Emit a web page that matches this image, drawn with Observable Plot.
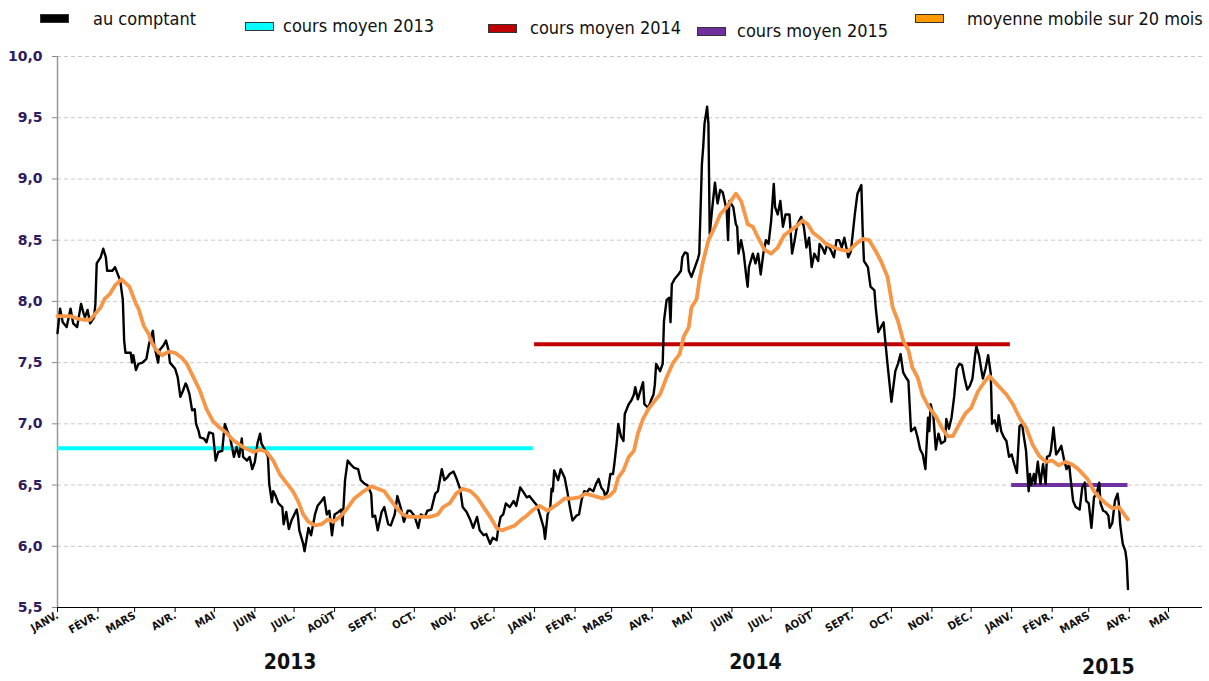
<!DOCTYPE html>
<html><head><meta charset="utf-8">
<script src="https://cdn.jsdelivr.net/npm/d3@7"></script>
<script src="https://cdn.jsdelivr.net/npm/@observablehq/plot@0.6"></script>
<style>
body{margin:0;background:#fff;width:1209px;height:681px;overflow:hidden;position:relative;font-family:"DejaVu Sans Condensed","DejaVu Sans",sans-serif;}
#legend{position:absolute;left:0;top:0;width:1209px;height:40px;}
.sw{position:absolute;width:27px;height:7px;border:1px solid #333;}
.lt{position:absolute;font-size:18px;line-height:20px;color:#111;white-space:nowrap;}
#chart{position:absolute;top:40px;left:0;}
</style></head><body>
<div id="legend"></div>
<div id="chart"></div>
<script>
// ---------- data ----------
const monthLabels = ["JANV.","FÉVR.","MARS","AVR.","MAI","JUIN","JUIL.","AOÛT","SEPT.","OCT.","NOV.","DÉC."];
const yTicks = [5.5,6.0,6.5,7.0,7.5,8.0,8.5,9.0,9.5,10.0];
const xStart = "2013-01-01", xEnd = "2015-05-27";

const legendLabels = ["au comptant","cours moyen 2013","cours moyen 2014","cours moyen 2015","moyenne mobile sur 20 mois"];
const legendColors = ["#000000","#00FFFF","#C00000","#7030A0","#FF9900"];

const meanYears = ["2013","2014","2015"];
const meanValues = [6.80, 7.65, 6.50];
const meanStart = ["2013-01-01","2014-01-01","2015-01-01"];
const meanEnd = ["2013-12-31","2014-12-31","2015-03-31"];
const meanColors = ["#00FFFF","#C00000","#7030A0"];

const yearLabels = ["2013","2014","2015"];
const yearLabelDates = ["2013-06-28","2014-06-19","2015-03-16"];

const spot2013 = [
["2013-01-01",7.74],["2013-01-03",7.94],["2013-01-05",7.83],["2013-01-08",7.79],["2013-01-11",7.94],["2013-01-13",7.82],["2013-01-16",7.79],["2013-01-19",7.98],["2013-01-21",7.90],["2013-01-22",7.87],["2013-01-24",7.93],["2013-01-26",7.82],["2013-01-29",7.87],["2013-01-30",7.98],["2013-01-31",8.31],
["2013-02-03",8.36],["2013-02-05",8.43],["2013-02-07",8.36],["2013-02-08",8.25],["2013-02-12",8.25],["2013-02-14",8.28],["2013-02-18",8.17],["2013-02-20",8.01],["2013-02-21",7.68],["2013-02-22",7.58],["2013-02-26",7.58],["2013-02-27",7.50],["2013-02-28",7.56],
["2013-03-02",7.44],["2013-03-04",7.49],["2013-03-07",7.50],["2013-03-10",7.53],["2013-03-12",7.65],["2013-03-14",7.73],["2013-03-15",7.76],["2013-03-16",7.64],["2013-03-19",7.50],["2013-03-20",7.60],["2013-03-23",7.64],["2013-03-25",7.68],["2013-03-27",7.60],["2013-03-28",7.50],
["2013-04-01",7.45],["2013-04-03",7.38],["2013-04-05",7.22],["2013-04-07",7.27],["2013-04-09",7.33],["2013-04-10",7.31],["2013-04-12",7.24],["2013-04-14",7.11],["2013-04-16",7.12],["2013-04-17",7.00],["2013-04-19",6.94],["2013-04-20",6.89],["2013-04-23",6.88],["2013-04-25",6.85],["2013-04-27",6.93],["2013-04-30",6.92],
["2013-05-02",6.70],["2013-05-04",6.77],["2013-05-07",6.78],["2013-05-09",7.00],["2013-05-11",6.94],["2013-05-13",6.89],["2013-05-16",6.73],["2013-05-18",6.81],["2013-05-20",6.73],["2013-05-22",6.88],["2013-05-23",6.73],["2013-05-26",6.70],["2013-05-28",6.73],["2013-05-30",6.63],
["2013-06-01",6.69],["2013-06-03",6.84],["2013-06-05",6.92],["2013-06-06",6.84],["2013-06-09",6.78],["2013-06-11",6.73],["2013-06-12",6.51],["2013-06-14",6.36],["2013-06-15",6.45],["2013-06-17",6.41],["2013-06-19",6.35],["2013-06-22",6.32],["2013-06-23",6.18],["2013-06-25",6.28],["2013-06-27",6.14],["2013-06-29",6.21],
["2013-07-03",6.30],["2013-07-04",6.24],["2013-07-05",6.13],["2013-07-08",6.02],["2013-07-09",5.96],["2013-07-12",6.15],["2013-07-14",6.09],["2013-07-17",6.26],["2013-07-19",6.33],["2013-07-22",6.37],["2013-07-24",6.40],["2013-07-26",6.26],["2013-07-28",6.29],["2013-07-30",6.09],
["2013-08-01",6.26],["2013-08-04",6.28],["2013-08-06",6.30],["2013-08-07",6.17],["2013-08-09",6.54],["2013-08-11",6.70],["2013-08-14",6.66],["2013-08-16",6.64],["2013-08-19",6.63],["2013-08-21",6.54],["2013-08-24",6.51],["2013-08-26",6.50],["2013-08-29",6.43],["2013-08-30",6.24],
["2013-09-01",6.25],["2013-09-03",6.13],["2013-09-06",6.28],["2013-09-08",6.32],["2013-09-11",6.18],["2013-09-13",6.17],["2013-09-16",6.26],["2013-09-18",6.41],["2013-09-21",6.30],["2013-09-23",6.20],["2013-09-26",6.29],["2013-09-28",6.29],
["2013-10-01",6.25],["2013-10-04",6.15],["2013-10-06",6.26],["2013-10-09",6.24],["2013-10-11",6.29],["2013-10-14",6.30],["2013-10-17",6.43],["2013-10-19",6.45],["2013-10-22",6.63],["2013-10-24",6.54],["2013-10-26",6.56],["2013-10-28",6.59],["2013-10-31",6.61],
["2013-11-02",6.56],["2013-11-05",6.47],["2013-11-07",6.32],["2013-11-10",6.28],["2013-11-13",6.21],["2013-11-15",6.15],["2013-11-18",6.24],["2013-11-20",6.13],["2013-11-23",6.09],["2013-11-25",6.10],["2013-11-28",6.02],["2013-11-30",6.07],
["2013-12-03",6.05],["2013-12-04",6.13],["2013-12-06",6.24],["2013-12-08",6.26],["2013-12-10",6.35],["2013-12-13",6.32],["2013-12-16",6.37],["2013-12-18",6.33],["2013-12-21",6.48],["2013-12-23",6.45],["2013-12-26",6.40],["2013-12-28",6.41],["2013-12-31",6.37]
];
const spot2014 = [
["2014-01-03",6.33],["2014-01-05",6.26],["2014-01-08",6.15],["2014-01-09",6.06],["2014-01-11",6.26],["2014-01-13",6.32],["2014-01-14",6.47],["2014-01-15",6.45],["2014-01-16",6.62],["2014-01-19",6.54],["2014-01-21",6.63],["2014-01-24",6.56],["2014-01-26",6.45],["2014-01-28",6.32],["2014-01-30",6.21],
["2014-02-02",6.25],["2014-02-04",6.26],["2014-02-06",6.38],["2014-02-08",6.45],["2014-02-10",6.44],["2014-02-12",6.47],["2014-02-15",6.45],["2014-02-17",6.51],["2014-02-19",6.55],["2014-02-21",6.48],["2014-02-23",6.45],["2014-02-24",6.41],["2014-02-26",6.45],["2014-02-28",6.59],
["2014-03-02",6.59],["2014-03-03",6.67],["2014-03-05",6.86],["2014-03-06",7.00],["2014-03-08",6.90],["2014-03-10",6.86],["2014-03-11",7.08],["2014-03-14",7.16],["2014-03-16",7.19],["2014-03-18",7.24],["2014-03-19",7.30],["2014-03-21",7.20],["2014-03-23",7.27],["2014-03-25",7.34],["2014-03-26",7.16],["2014-03-29",7.13],["2014-03-31",7.19],
["2014-04-02",7.24],["2014-04-03",7.32],["2014-04-04",7.49],["2014-04-07",7.43],["2014-04-09",7.49],["2014-04-10",7.84],["2014-04-12",8.01],["2014-04-14",8.03],["2014-04-15",7.83],["2014-04-16",8.14],["2014-04-18",8.18],["2014-04-21",8.22],["2014-04-23",8.25],["2014-04-24",8.36],["2014-04-26",8.40],["2014-04-28",8.39],["2014-04-29",8.25],
["2014-05-01",8.20],["2014-05-03",8.26],["2014-05-06",8.35],["2014-05-07",8.39],["2014-05-09",9.12],["2014-05-10",9.26],["2014-05-11",9.45],["2014-05-13",9.59],["2014-05-14",9.45],["2014-05-15",8.55],["2014-05-17",8.77],["2014-05-19",8.97],["2014-05-20",8.88],["2014-05-21",8.80],["2014-05-23",8.91],["2014-05-25",8.89],["2014-05-28",8.74],["2014-05-29",8.50],["2014-05-30",8.82],
["2014-06-02",8.77],["2014-06-04",8.63],["2014-06-05",8.61],["2014-06-06",8.39],["2014-06-08",8.50],["2014-06-10",8.39],["2014-06-12",8.20],["2014-06-13",8.12],["2014-06-14",8.28],["2014-06-17",8.39],["2014-06-19",8.31],["2014-06-21",8.39],["2014-06-23",8.22],["2014-06-25",8.39],["2014-06-27",8.50],["2014-06-29",8.47],
["2014-07-01",8.66],["2014-07-03",8.96],["2014-07-04",8.77],["2014-07-06",8.71],["2014-07-08",8.82],["2014-07-10",8.61],["2014-07-12",8.71],["2014-07-15",8.71],["2014-07-17",8.39],["2014-07-19",8.50],["2014-07-21",8.63],["2014-07-24",8.69],["2014-07-26",8.61],["2014-07-28",8.44],["2014-07-30",8.52],
["2014-08-01",8.28],["2014-08-03",8.39],["2014-08-06",8.33],["2014-08-07",8.47],["2014-08-09",8.44],["2014-08-11",8.39],["2014-08-13",8.47],["2014-08-16",8.41],["2014-08-18",8.36],["2014-08-20",8.50],["2014-08-22",8.50],["2014-08-24",8.44],["2014-08-26",8.52],["2014-08-29",8.36],["2014-08-31",8.41],
["2014-09-03",8.71],["2014-09-05",8.88],["2014-09-08",8.95],["2014-09-09",8.58],["2014-09-10",8.33],["2014-09-13",8.28],["2014-09-15",8.12],["2014-09-18",8.09],["2014-09-19",7.95],["2014-09-21",7.75],["2014-09-23",7.79],["2014-09-25",7.83],["2014-09-26",7.71],["2014-09-28",7.49],
["2014-10-01",7.18],["2014-10-04",7.43],["2014-10-06",7.49],["2014-10-08",7.57],["2014-10-10",7.42],["2014-10-12",7.38],["2014-10-14",7.35],["2014-10-16",6.94],["2014-10-19",6.97],["2014-10-21",6.89],["2014-10-23",6.79],["2014-10-25",6.75],["2014-10-27",6.63],["2014-10-29",7.05],["2014-10-30",6.94],["2014-10-31",7.16],
["2014-11-02",7.08],["2014-11-04",6.79],["2014-11-06",6.92],["2014-11-08",6.84],["2014-11-11",6.86],["2014-11-12",7.04],["2014-11-14",6.96],["2014-11-16",7.05],["2014-11-18",7.22],["2014-11-20",7.45],["2014-11-22",7.49],["2014-11-24",7.48],["2014-11-26",7.37],["2014-11-28",7.28],["2014-11-30",7.31],
["2014-12-02",7.37],["2014-12-04",7.56],["2014-12-05",7.63],["2014-12-07",7.56],["2014-12-09",7.43],["2014-12-10",7.37],["2014-12-12",7.45],["2014-12-14",7.56],["2014-12-16",7.41],["2014-12-17",7.00],["2014-12-19",7.03],["2014-12-21",6.94],["2014-12-22",7.07],["2014-12-24",6.94],["2014-12-26",6.89],["2014-12-28",6.86],["2014-12-30",6.73]
];
const spot2015 = [
["2015-01-01",6.75],["2015-01-03",6.67],["2015-01-05",6.60],["2015-01-07",6.98],["2015-01-09",7.00],["2015-01-10",6.92],["2015-01-12",6.78],["2015-01-14",6.45],["2015-01-15",6.59],["2015-01-16",6.50],["2015-01-18",6.59],["2015-01-19",6.51],["2015-01-21",6.69],["2015-01-23",6.51],["2015-01-25",6.67],["2015-01-27",6.51],["2015-01-28",6.73],["2015-01-30",6.74],["2015-01-31",6.78],
["2015-02-02",6.97],["2015-02-04",6.75],["2015-02-06",6.78],["2015-02-08",6.82],["2015-02-10",6.71],["2015-02-12",6.63],["2015-02-14",6.67],["2015-02-15",6.56],["2015-02-17",6.37],["2015-02-19",6.32],["2015-02-22",6.30],["2015-02-24",6.48],["2015-02-26",6.52],["2015-02-27",6.37],
["2015-03-01",6.35],["2015-03-03",6.15],["2015-03-05",6.40],["2015-03-07",6.43],["2015-03-09",6.52],["2015-03-10",6.35],["2015-03-12",6.29],["2015-03-14",6.28],["2015-03-16",6.25],["2015-03-17",6.15],["2015-03-19",6.19],["2015-03-21",6.37],["2015-03-23",6.43],["2015-03-24",6.35],["2015-03-25",6.18],["2015-03-27",6.02],["2015-03-29",5.96],["2015-03-30",5.88],["2015-03-31",5.65]
];

const ma2013 = [
["2013-01-01",7.88],["2013-01-07",7.88],["2013-01-11",7.88],["2013-01-16",7.86],["2013-01-21",7.85],["2013-01-26",7.85],["2013-01-30",7.90],["2013-02-03",7.95],["2013-02-06",8.02],["2013-02-10",8.06],["2013-02-14",8.13],["2013-02-19",8.18],["2013-02-25",8.12],["2013-03-02",7.98],["2013-03-04",7.94],["2013-03-08",7.80],["2013-03-12",7.73],["2013-03-13",7.69],["2013-03-17",7.61],["2013-03-22",7.56],["2013-03-27",7.59],
["2013-04-01",7.58],["2013-04-06",7.54],["2013-04-10",7.49],["2013-04-15",7.38],["2013-04-20",7.27],["2013-04-25",7.12],["2013-04-30",7.02],["2013-05-05",6.97],["2013-05-10",6.93],["2013-05-15",6.87],["2013-05-23",6.81],["2013-05-31",6.77],["2013-06-05",6.79],["2013-06-10",6.77],["2013-06-15",6.70],["2013-06-20",6.59],["2013-06-25",6.52],["2013-06-30",6.45],
["2013-07-04",6.37],["2013-07-08",6.26],["2013-07-12",6.20],["2013-07-17",6.17],["2013-07-22",6.18],["2013-07-27",6.22],["2013-07-31",6.20],["2013-08-05",6.24],["2013-08-10",6.30],["2013-08-16",6.39],["2013-08-22",6.44],["2013-08-29",6.49],["2013-09-03",6.47],["2013-09-08",6.45],["2013-09-12",6.39],["2013-09-17",6.32],["2013-09-22",6.26],["2013-09-27",6.24],
["2013-10-05",6.24],["2013-10-13",6.24],["2013-10-19",6.26],["2013-10-23",6.32],["2013-10-28",6.35],["2013-11-02",6.43],["2013-11-07",6.47],["2013-11-13",6.45],["2013-11-18",6.40],["2013-11-23",6.32],["2013-11-28",6.24],["2013-12-03",6.15],["2013-12-07",6.13],["2013-12-12",6.15],["2013-12-17",6.17],["2013-12-21",6.21],["2013-12-26",6.25],["2013-12-31",6.30]
];
const ma2014 = [
["2014-01-05",6.33],["2014-01-11",6.29],["2014-01-18",6.34],["2014-01-24",6.39],["2014-01-29",6.39],["2014-02-04",6.40],["2014-02-09",6.43],["2014-02-16",6.41],["2014-02-22",6.39],["2014-02-27",6.41],["2014-03-03",6.45],["2014-03-06",6.56],["2014-03-10",6.62],["2014-03-14",6.73],["2014-03-18",6.78],["2014-03-21",6.92],["2014-03-25",7.04],["2014-03-29",7.12],
["2014-04-03",7.19],["2014-04-07",7.24],["2014-04-12",7.38],["2014-04-17",7.50],["2014-04-22",7.57],["2014-04-25",7.71],["2014-04-29",7.79],["2014-05-01",7.95],["2014-05-05",8.02],["2014-05-07",8.17],["2014-05-10",8.33],["2014-05-14",8.50],["2014-05-19",8.61],["2014-05-23",8.71],["2014-05-28",8.77],["2014-06-04",8.88],["2014-06-08",8.82],["2014-06-11",8.71],["2014-06-13",8.63],["2014-06-17",8.61],["2014-06-21",8.52],["2014-06-26",8.42],
["2014-07-01",8.39],["2014-07-06",8.44],["2014-07-11",8.54],["2014-07-16",8.58],["2014-07-21",8.62],["2014-07-25",8.66],["2014-07-29",8.63],["2014-08-02",8.56],["2014-08-07",8.52],["2014-08-12",8.47],["2014-08-18",8.44],["2014-08-24",8.42],["2014-08-29",8.41],["2014-09-04",8.47],["2014-09-09",8.51],["2014-09-14",8.50],["2014-09-19",8.41],["2014-09-23",8.33],["2014-09-28",8.20],
["2014-10-02",7.95],["2014-10-06",7.84],["2014-10-10",7.68],["2014-10-14",7.60],["2014-10-17",7.46],["2014-10-21",7.38],["2014-10-25",7.23],["2014-10-30",7.13],["2014-11-04",7.06],["2014-11-09",6.96],["2014-11-13",6.90],["2014-11-17",6.90],["2014-11-22",7.00],["2014-11-27",7.09],["2014-12-01",7.13],["2014-12-06",7.26],["2014-12-11",7.34],["2014-12-15",7.39],["2014-12-20",7.33],["2014-12-28",7.24]
];
const ma2015 = [
["2015-01-02",7.16],["2015-01-07",7.05],["2015-01-12",6.97],["2015-01-17",6.83],["2015-01-22",6.74],["2015-01-27",6.69],["2015-02-01",6.70],["2015-02-06",6.66],["2015-02-11",6.69],["2015-02-16",6.67],["2015-02-21",6.63],["2015-02-28",6.55],["2015-03-05",6.45],["2015-03-09",6.40],["2015-03-14",6.35],["2015-03-19",6.31],["2015-03-24",6.32],["2015-03-31",6.22]
];

// ---------- build ----------
const toRows = arr => arr.map(([d, v]) => ({date: new Date(d), value: v}));
const spot = toRows([...spot2013, ...spot2014, ...spot2015]);
const ma = toRows([...ma2013, ...ma2014, ...ma2015]);
const means = meanYears.map((y, i) => ({year: y, value: meanValues[i], start: new Date(meanStart[i]), end: new Date(meanEnd[i]), color: meanColors[i]}));
const years = yearLabels.map((t, i) => ({label: t, date: new Date(yearLabelDates[i])}));
const xDomain = [new Date(xStart), new Date(xEnd)];
const monthTicks = d3.utcMonth.range(xDomain[0], xDomain[1]);
const fmtY = d => d.toFixed(1).replace(".", ",");

// legend (layout only)
const legendLayout = [
  {sx:40, sy:14, tx:93, ty:9},
  {sx:245, sy:22, tx:283, ty:16},
  {sx:488, sy:24, tx:530, ty:18},
  {sx:697, sy:27, tx:737, ty:21},
  {sx:915, sy:14, tx:967, ty:9}
];
const leg = document.getElementById("legend");
legendLabels.forEach((lab, i) => {
  const L = legendLayout[i];
  const sw = document.createElement("div");
  sw.className = "sw"; sw.style.left = L.sx + "px"; sw.style.top = L.sy + "px"; sw.style.background = legendColors[i];
  const t = document.createElement("div");
  t.className = "lt"; t.style.left = L.tx + "px"; t.style.top = L.ty + "px"; t.textContent = lab;
  leg.appendChild(sw); leg.appendChild(t);
});

const chart = Plot.plot({
  width: 1209, height: 641,
  marginLeft: 57, marginRight: 7, marginTop: 16, marginBottom: 74,
  style: {background: "#fff", fontFamily: "'DejaVu Sans Condensed','DejaVu Sans',sans-serif", overflow: "visible"},
  x: {type: "utc", domain: xDomain},
  y: {domain: [5.5, 10]},
  marks: [
    Plot.gridY(yTicks.filter(v => v > 5.5), {stroke: "#c8c8c8", strokeOpacity: 1, strokeDasharray: "4,3"}),
    Plot.axisY({ticks: yTicks, tickFormat: fmtY, tickSize: 5, tickPadding: 10, fontSize: 14, fontWeight: "bold", fill: "#2E1A5E", stroke: "#888", fontFamily: "'DejaVu Sans',sans-serif", label: null}),
    Plot.axisX({ticks: monthTicks, tickFormat: d => monthLabels[d.getUTCMonth()], tickRotate: -30, tickSize: 5, tickPadding: 2, fontSize: 11, fontWeight: "bold", fill: "#111", stroke: "#000", label: null}),
    Plot.ruleX([xDomain[0]], {stroke: "#999", strokeWidth: 1.5}),
    Plot.ruleY([5.5], {stroke: "#000", strokeWidth: 1.2}),
    Plot.ruleY(means, {y: "value", x1: "start", x2: "end", stroke: "color", strokeWidth: 4}),
    Plot.line(spot, {x: "date", y: "value", stroke: "#000", strokeWidth: 2.4, curve: "linear"}),
    Plot.line(ma, {x: "date", y: "value", stroke: "#F79646", strokeWidth: 3.8, curve: "linear"}),
    Plot.text(years.filter(d => d.label !== "2015"), {x: "date", text: "label", frameAnchor: "bottom", dy: 61, fontSize: 21, fontWeight: "bold", fill: "#111"}),
    Plot.text(years.filter(d => d.label === "2015"), {x: "date", text: "label", frameAnchor: "bottom", dy: 66, fontSize: 21, fontWeight: "bold", fill: "#111"})
  ]
});
document.getElementById("chart").appendChild(chart);
</script>
</body></html>
